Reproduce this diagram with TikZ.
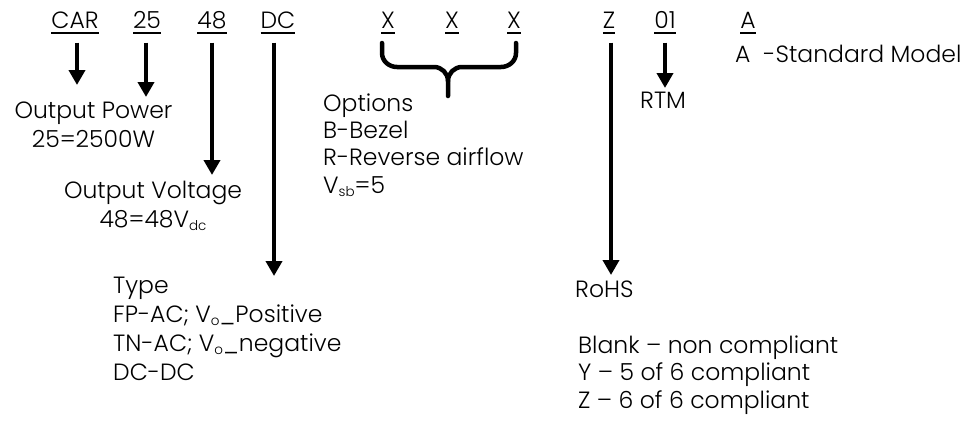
\documentclass[tikz,border=0pt]{standalone}
\usepackage{fontspec}
\setmainfont{Poppins}[UprightFont=* Light]
\usetikzlibrary{arrows.meta}
% underlined code letter, rule set a little below the baseline
\newcommand\codeul[1]{\setbox0\hbox{#1}\rlap{\vrule width\wd0 height -4pt depth 5.5pt}\box0}
\newcommand\subtxt[1]{\raisebox{-3pt}{\fontsize{13.5}{14}\selectfont #1}}
\begin{document}
\begin{tikzpicture}[x=1pt, y=-1pt,
  code/.style={anchor=base, inner sep=0pt, outer sep=0pt, font=\fontsize{23.5}{29}\selectfont},
  desc/.style={anchor=base west, inner sep=0pt, align=left, font=\fontsize{23.5}{29}\selectfont},
  arrow/.style={-{Triangle[width=16pt,length=15pt]}, line width=4.5pt, shorten <=9pt},
  brace/.style={line width=4.5pt, line cap=round, line join=round}
]
\useasboundingbox (0,0) rectangle (976,421);
% part number
\node[code] (car) at (75,28) {\codeul{CAR}};
\node[code] (pw) at (147,28) {\codeul{25}};
\node[code] (vo) at (212,28) {\codeul{48}};
\node[code] (dc) at (278,28) {\codeul{DC}};
\node[code] (xa) at (388,28) {\codeul{X}};
\node[code] (xb) at (452,28) {\codeul{X}};
\node[code] (xc) at (514,28) {\codeul{X}};
\node[code] (z) at (609,28) {\codeul{Z}};
\node[code] (rt) at (665,28) {\codeul{01}};
\node[code] (a) at (748,28) {\codeul{A}};
% meanings (base = last line)
\node[desc, anchor=base, align=center] (power) at (93.5,147) {Output Power\\25=2500W};
\node[desc, anchor=base, align=center] (volt) at (153,227) {Output Voltage\\48=48V\subtxt{dc}};
\node[desc] (type) at (113,380) {Type\\FP-AC; V\subtxt{o}\_Positive\\TN-AC; V\subtxt{o}\_negative\\DC-DC};
\node[desc, font=\fontsize{23.5}{27.3}\selectfont] (opt) at (323,193) {Options\\B-Bezel\\R-Reverse airflow\\V\subtxt{sb}=5};
\node[desc] (rohs) at (575,297) {RoHS};
\node[desc, font=\fontsize{23.5}{27.5}\selectfont] (rohsval) at (578,408) {Blank -- non compliant\\Y -- 5 of 6 compliant\\Z -- 6 of 6 compliant};
\node[desc] (rtm) at (640,108) {RTM};
\node[desc] (std) at (735,62) {A\ \ -Standard Model};
% arrow tips
\coordinate (carTip) at (77,85);
\coordinate (pwTip) at (146,97);
\coordinate (voTip) at (212,175);
\coordinate (dcTip) at (274,276);
\coordinate (zTip) at (611,275);
\coordinate (rtTip) at (665,88);
\draw[arrow] (carTip |- car.south) -- (carTip);
\draw[arrow] (pwTip |- pw.south) -- (pwTip);
\draw[arrow] (voTip |- vo.south) -- (voTip);
\draw[arrow] (dcTip |- dc.south) -- (dcTip);
\draw[arrow] (zTip |- z.south) -- (zTip);
\draw[arrow] (rtTip |- rt.south) -- (rtTip);
% brace under the options
\draw[brace] (382,43) -- (382,53) to[out=-90,in=180] (397,67) -- (434,67) to[out=0,in=90] (448,81) -- (448,96);
\draw[brace] (516,43) -- (516,53) to[out=-90,in=0] (501,67) -- (462,67) to[out=180,in=90] (448,81);
\end{tikzpicture}
\end{document}
